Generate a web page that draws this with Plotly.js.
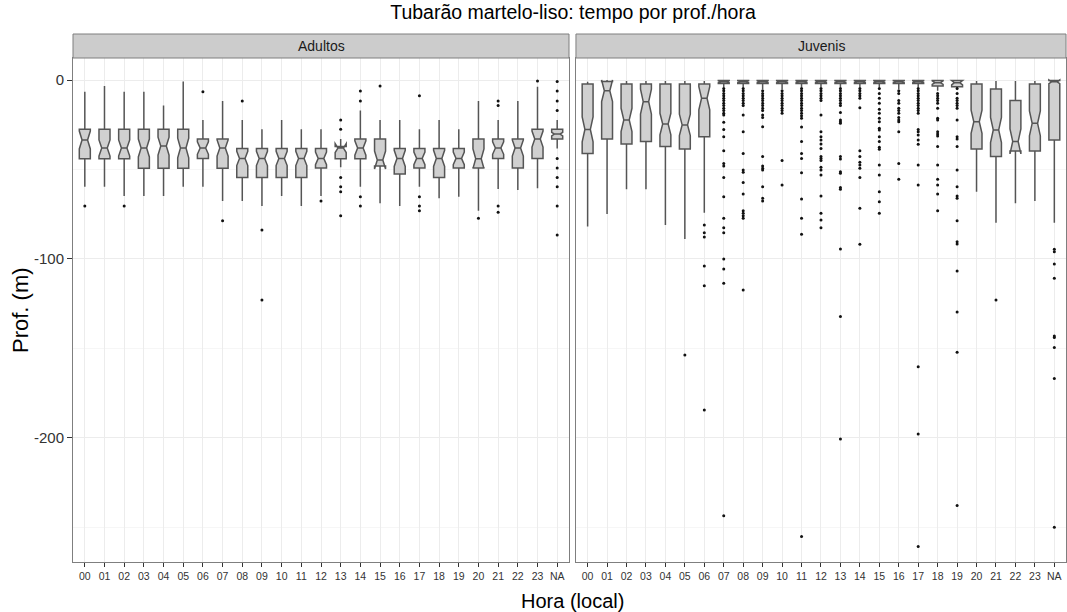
<!DOCTYPE html>
<html>
<head>
<meta charset="utf-8">
<script src="https://cdn.plot.ly/plotly-3.0.1.min.js"></script>
<style>html,body{margin:0;padding:0;background:#fff}#chart{width:1067px;height:612px}</style>
</head>
<body>
<div id="chart"></div>
<script>
var hours = ['00','01','02','03','04','05','06','07','08','09','10','11','12','13','14','15','16','17','18','19','20','21','22','23','NA'];

// Adultos
var adultHi    = [-6.5,-3.4,-6.5,-6.5,-14.3,-0.9,-22.3,-11.7,-22.3,-27.5,-22.3,-27.5,-27.5,-33,-17.1,-22.3,-22.3,-27.5,-22.3,-27.5,-11.7,-22.3,-11.7,-3.7,-22.3];
var adultQ3    = [-27.5,-27.5,-27.5,-27.5,-27.5,-27.5,-33,-33,-38.2,-38.2,-38.2,-38.2,-38.2,-37.2,-33,-33,-38.2,-38.2,-38.2,-38.2,-33,-33,-33,-27.5,-27.5];
var adultMed   = [-33.5,-38,-38,-38,-36.9,-38,-38,-38,-43.8,-43.8,-43.8,-43.8,-43.8,-38,-38,-44.7,-43.8,-43.8,-43.8,-43.8,-44,-38,-38,-33,-30.2];
var adultQ1    = [-44,-44,-44,-49.3,-49.3,-49.3,-43.8,-49.3,-54.4,-54.4,-54.4,-54.4,-49.1,-44,-44,-48,-52.5,-49.1,-54.4,-49.1,-49.1,-43.8,-49.1,-43.8,-33];
var adultLo    = [-59.6,-59.6,-64.8,-64.8,-64.8,-59.6,-59.6,-67.6,-67.6,-70.4,-64.8,-70.4,-64.8,-48.8,-59.6,-68.9,-70.4,-59.6,-66.1,-65.2,-73,-60.9,-61.5,-60.5,-38.2];
var adultNotch = [5,4.5,4.5,5,5,5.5,3.5,4.5,4,4,4,4,3.5,2.5,4,5,4.5,3.5,4.5,3.5,5.5,3.5,4.5,4.5,1];
var adultOutliers = [
  [-70.4],[],[-70.4],[],[],[],[-6.5],[-78.6],[-11.7],[-83.8,-122.9],[],[],[-67.6],
  [-22.3,-27.5,-54.4,-59.6,-62.4,-75.8],[-6.1,-11.7,-65.2,-70.4],[-3.4],[],
  [-8.8,-65.2,-70.4,-73],[],[],[-77.3],[-11.7,-14.3,-70.4,-73.9],[],[-0.5],
  [-0.9,-6.1,-11.7,-17.1,-43.8,-49.1,-54.4,-59.6,-70.4,-86.6]
];

// Juvenis
var juvHi    = [-1,-0.5,-0.5,-0.5,-0.5,-0.5,-0.5,0,0,0,0,0,0,0,0,0,0,0,0,0,-0.5,-0.5,-0.5,-0.5,0];
var juvQ3    = [-2.2,-0.8,-2.2,-2.2,-2.2,-2.2,-2.2,-0.3,-0.3,-0.3,-0.3,-0.3,-0.3,-0.3,-0.3,-0.3,-0.3,-0.3,-0.3,-0.3,-2.2,-5,-11.5,-2.2,-0.3];
var juvMed   = [-27.6,-6,-22.3,-12.1,-24.6,-25.1,-10.2,-1,-1,-1,-1,-1,-1,-1,-1,-1,-1,-1,-1.5,-1.5,-23.3,-27.9,-34.3,-24.2,-1];
var juvQ1    = [-41,-33,-35.8,-34.4,-37.2,-38.5,-31.7,-2,-2,-2,-2,-2,-2,-2,-2,-2,-2,-2,-3.4,-3.7,-38.5,-42.8,-39.7,-39.7,-33.5];
var juvLo    = [-81.9,-74.9,-61.1,-61.1,-81,-88.8,-74.1,-4,-4,-5,-5,-4,-4,-4,-4,-4,-5,-4,-6,-4.5,-62.4,-79.7,-68.9,-67.6,-79.7];
var juvNotch = [7,6,6.5,7,6,6,6.5,0.6,0.6,0.6,0.6,0.6,0.6,0.6,0.6,0.6,0.6,0.6,1,1.2,6.5,7,7,7,1];
var juvOutliers = [
  [],[],[],[],[],[-153.6],
  [-81,-85.3,-87.7,-103.9,-114.9,-184.4],
  [-4.7,-6,-7.5,-8.8,-10.2,-11.5,-13,-14.3,-15.8,-17.1,-18.6,-19.6,-23.6,-27.6,-31.7,-39.5,-46.6,-48,-54.4,-65.2,-77.3,-82.5,-85.3,-100,-105.6,-113.6,-243.4],
  [-4.7,-6,-7.5,-8.8,-10.2,-11.5,-13,-14.3,-19.6,-28.9,-41,-50.3,-51.6,-57.2,-63.7,-73,-74.5,-75.8,-77.3,-117.3],
  [-6,-7.5,-8.8,-10.2,-11.5,-13,-14.3,-15.8,-17.1,-19.6,-20.9,-26.1,-42.8,-48,-49.3,-50.3,-59.6,-66.1,-67.6],
  [-6,-7.5,-8.8,-10.2,-11.5,-13,-14.3,-15.8,-17.1,-18.6,-45,-58.7],
  [-4.7,-6,-7.5,-8.8,-10.2,-11.5,-13,-14.3,-15.8,-17.1,-18.6,-19.9,-21.4,-26.3,-34.4,-41,-43.8,-51.8,-66.5,-77.3,-86.2,-255],
  [-4.7,-6,-7.5,-8.8,-10.2,-11.5,-19.6,-28.9,-31.7,-33.5,-35.8,-38.2,-42.8,-43.8,-45,-48.8,-50.3,-53.1,-64.8,-74.5,-78.2,-82.5],
  [-4.7,-6,-7.5,-8.8,-10.2,-11.5,-13,-14.3,-18.2,-22.3,-23.3,-24.2,-42.8,-44.1,-51.2,-52.1,-60.1,-61.1,-94.4,-132.2,-200.6],
  [-4.7,-6,-7.5,-8.8,-10.2,-15.5,-39.5,-42.8,-46,-47.5,-49.3,-54.4,-71.7,-91.8],
  [-4.7,-7.5,-10.2,-13,-16.4,-18.6,-21.4,-23.3,-27,-27.9,-31.7,-34.4,-37.6,-38.7,-47.5,-53.1,-62.4,-68,-74.5],
  [-6,-7.5,-11.5,-13,-15.8,-17.1,-18.6,-20.9,-22.3,-23.3,-28.9,-46.6,-55.5],
  [-4.7,-6,-7.5,-8.8,-10.2,-11.5,-13,-14.3,-15.8,-17.1,-18.6,-27.6,-28.9,-30.7,-33.5,-35.9,-47.5,-58.7,-160.2,-197.8,-260.7],
  [-7.5,-8.8,-10.2,-11.5,-13,-15.8,-21.4,-22.3,-28.9,-30.2,-31.3,-37.2,-47.5,-55.5,-58.7,-63.7,-73],
  [-4.7,-7.5,-10.2,-11.5,-13,-14.3,-15.8,-22.3,-31.7,-33,-37.2,-50.3,-59.6,-64.8,-66.1,-78.6,-90.3,-91.6,-106.7,-129.6,-152.1,-237.8],
  [],[-122.9],[],[],
  [-94.6,-95.9,-102.8,-110.8,-143,-143.8,-149.5,-166.8,-249.9]
];

var yTickVals = [0,-100,-200];
var yTickText = ['0','-100','-200'];

function flatten(outs) {
  var xs = [], ys = [];
  outs.forEach(function (arr, i) { arr.forEach(function (v) { xs.push(hours[i]); ys.push(v); }); });
  return {x: xs, y: ys};
}

var boxStyle = {
  type: 'box', notched: true, notchwidth: 0.25, whiskerwidth: 0,
  fillcolor: '#d0d0d0', line: {color: '#555555', width: 1.5},
  boxpoints: false, hoverinfo: 'skip', showlegend: false
};

function boxTrace(q1, med, q3, lo, hi, notch, xa, ya) {
  return Object.assign({}, boxStyle, {
    x: hours, q1: q1, median: med, q3: q3, lowerfence: lo, upperfence: hi,
    notchspan: notch, xaxis: xa, yaxis: ya
  });
}
function outTrace(outs, xa, ya) {
  var f = flatten(outs);
  return {type: 'scatter', mode: 'markers', x: f.x, y: f.y, xaxis: xa, yaxis: ya,
    marker: {color: '#111', size: 3}, hoverinfo: 'skip', showlegend: false, cliponaxis: false};
}

var data = [
  boxTrace(adultQ1, adultMed, adultQ3, adultLo, adultHi, adultNotch, 'x', 'y'),
  outTrace(adultOutliers, 'x', 'y'),
  boxTrace(juvQ1, juvMed, juvQ3, juvLo, juvHi, juvNotch, 'x2', 'y2'),
  outTrace(juvOutliers, 'x2', 'y2')
];

var fnt = 'Liberation Sans, Arial, sans-serif';
var xBase = {
  type: 'category', categoryorder: 'array', categoryarray: hours,
  range: [-0.6, 24.6], showgrid: true, gridcolor: '#ececec', gridwidth: 1,
  showline: true, mirror: true, linecolor: '#7f7f7f', linewidth: 1,
  ticks: 'outside', ticklen: 4, tickcolor: '#333', tickwidth: 1,
  tickfont: {family: fnt, size: 10.5, color: '#333'}, zeroline: false, fixedrange: true
};
var yBase = {
  range: [-269.3, 12.3], tickmode: 'array', tickvals: yTickVals, ticktext: yTickText,
  showgrid: true, gridcolor: '#ececec', gridwidth: 1,
  minor: {tickmode: 'array', tickvals: [-50,-150,-250], showgrid: true, gridcolor: '#f6f6f6', ticks: ''},
  showline: true, mirror: true, linecolor: '#7f7f7f', linewidth: 1,
  ticks: 'outside', ticklen: 5, tickcolor: '#333', tickwidth: 1,
  tickfont: {family: fnt, size: 15, color: '#333'}, zeroline: false, fixedrange: true
};

var sTop = 1 + 24 / 504;
var layout = {
  width: 1067, height: 612,
  margin: {l: 73, r: 1, t: 58, b: 50},
  paper_bgcolor: '#fff', plot_bgcolor: '#fff',
  font: {family: fnt, color: '#000'},
  title: {text: 'Tubarão martelo-liso: tempo por prof./hora', font: {family: fnt, size: 19.5, color: '#000'},
    x: 573 / 1067, xanchor: 'center', y: 1 - 12 / 612, yanchor: 'middle', yref: 'container'},
  xaxis: Object.assign({}, xBase, {domain: [0, 0.4995], anchor: 'y'}),
  xaxis2: Object.assign({}, xBase, {domain: [0.5065, 1], anchor: 'y2'}),
  yaxis: Object.assign({}, yBase, {anchor: 'x'}),
  yaxis2: Object.assign({}, yBase, {anchor: 'x2', matches: 'y', showticklabels: false, ticks: ''}),
  boxgap: 0.2,
  shapes: [
    {type: 'rect', xref: 'paper', yref: 'paper', x0: 0, x1: 0.4995, y0: 1, y1: sTop,
      fillcolor: '#cccccc', line: {color: '#7f7f7f', width: 1}},
    {type: 'rect', xref: 'paper', yref: 'paper', x0: 0.5065, x1: 1, y0: 1, y1: sTop,
      fillcolor: '#cccccc', line: {color: '#7f7f7f', width: 1}}
  ],
  annotations: [
    {text: 'Adultos', xref: 'paper', yref: 'paper', x: 0.25, y: (1 + sTop) / 2, showarrow: false,
      xanchor: 'center', yanchor: 'middle', font: {family: fnt, size: 14, color: '#1a1a1a'}},
    {text: 'Juvenis', xref: 'paper', yref: 'paper', x: 0.7533, y: (1 + sTop) / 2, showarrow: false,
      xanchor: 'center', yanchor: 'middle', font: {family: fnt, size: 14, color: '#1a1a1a'}},
    {text: 'Hora (local)', xref: 'paper', yref: 'paper', x: 0.5035, y: -39 / 504, showarrow: false,
      xanchor: 'center', yanchor: 'middle', font: {family: fnt, size: 20, color: '#000'}},
    {text: 'Prof. (m)', xref: 'paper', yref: 'paper', x: -53 / 993, y: 0.5, textangle: -90, showarrow: false,
      xanchor: 'center', yanchor: 'middle', font: {family: fnt, size: 22, color: '#000'}}
  ]
};

Plotly.newPlot('chart', data, layout, {staticPlot: true, displayModeBar: false});
</script>
</body>
</html>
